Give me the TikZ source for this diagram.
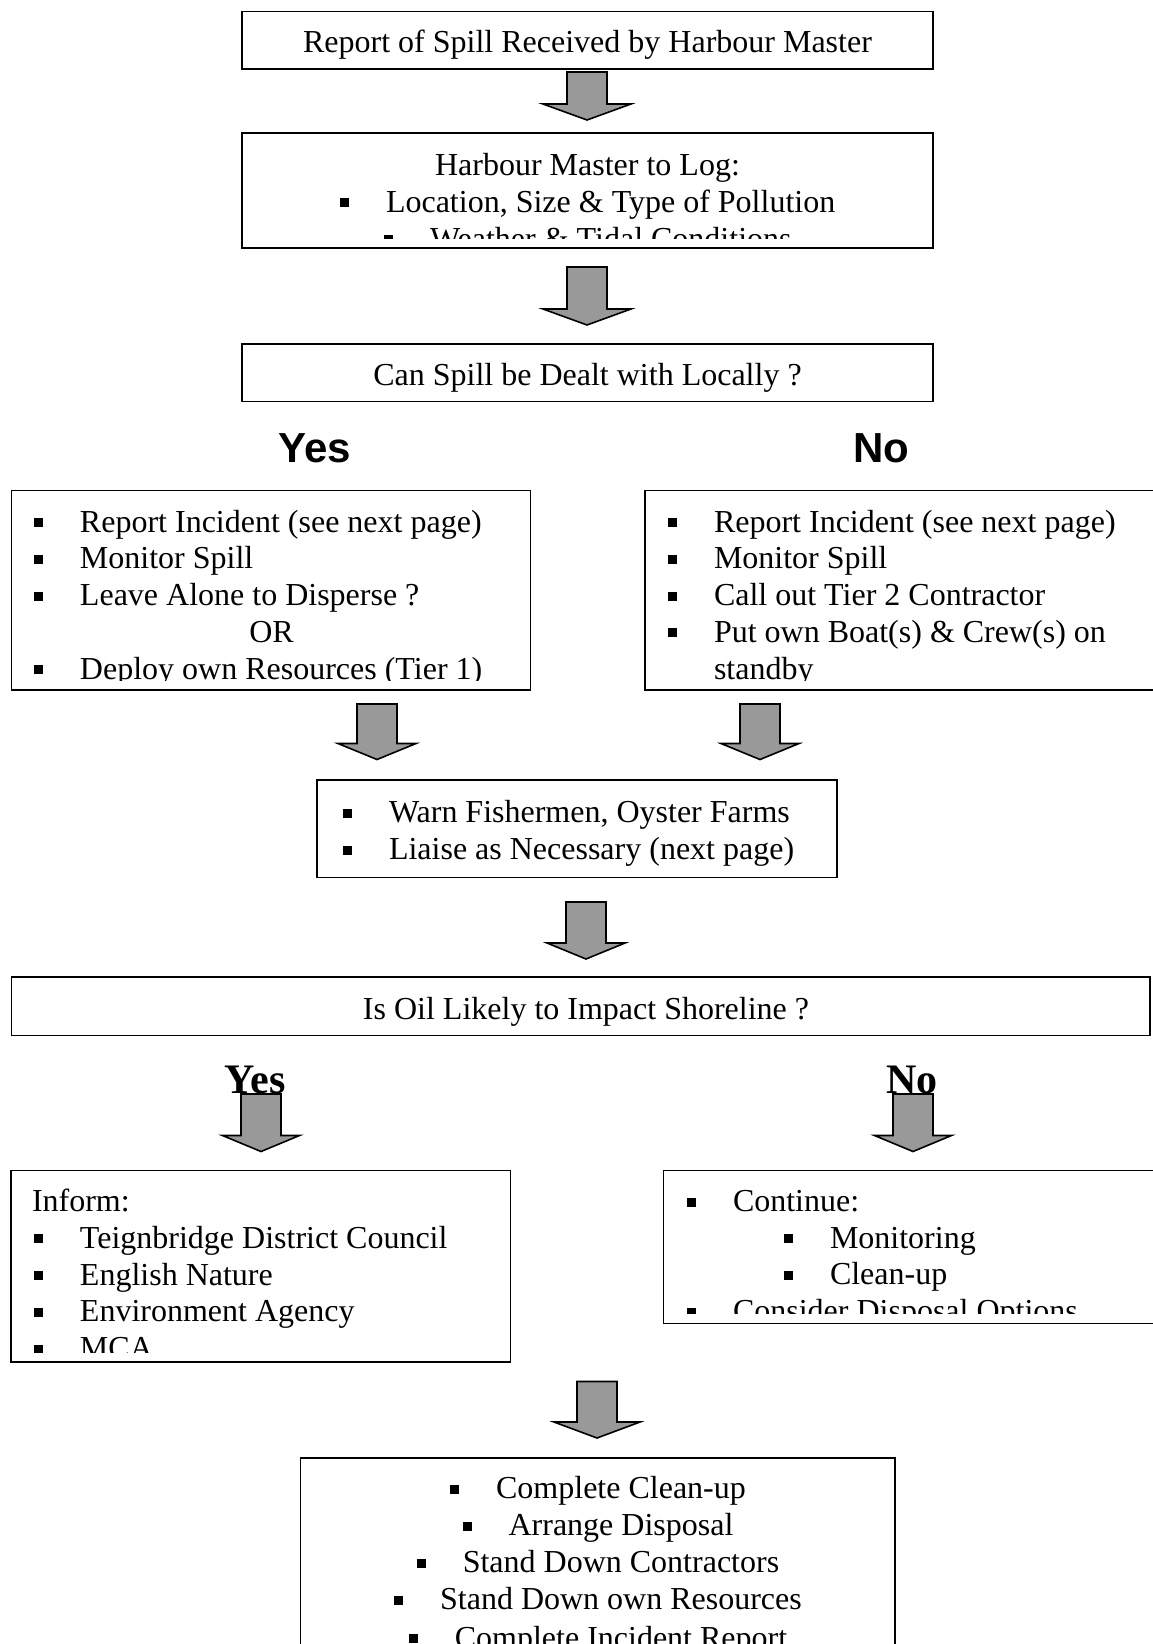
\documentclass[tikz,border=0pt]{standalone}
\usepackage{fontspec}
\setmainfont{Liberation Serif}
\newfontfamily\yesnosans{Liberation Sans}
\definecolor{arrowgray}{RGB}{153,153,153}
\newcommand\bl{\makebox[46pt][l]{\rule[5pt]{9pt}{9pt}}}
\newcommand\blockarrow[4]{\draw[arr] ({#1-20},#2) -- ({#1+20},#2) -- ({#1+20},{#3-16}) -- ({#1+#4},{#3-16}) -- (#1,#3) -- ({#1-#4},{#3-16}) -- ({#1-20},{#3-16}) -- cycle;}
\begin{document}
\begin{tikzpicture}[x=1pt,y=-1pt,
 box/.style={draw=black,line width=1.8pt},
 txt/.style={inner sep=0pt,outer sep=0pt,font=\fontsize{32}{36}\selectfont},
 arr/.style={draw=black,line width=1.6pt,fill=arrowgray,line join=miter},
 yn/.style={inner sep=0pt,anchor=base,font=\yesnosans\bfseries\fontsize{42}{48}\selectfont},
 yntwo/.style={inner sep=0pt,anchor=base,font=\bfseries\fontsize{42}{48}\selectfont}]
\useasboundingbox (0,0) rectangle (1152,1644);
\fill[white] (0,0) rectangle (1152,1644);

% Box 1
\draw[box] (242,11.5) rectangle (933,69);
\node[txt,anchor=base] (t1) at (587.5,52.5) {Report of Spill Received by Harbour Master};
\blockarrow{587}{72}{120}{44}

% Box 2
\draw[box] (242,133) rectangle (933,248);
\begin{scope}
\clip (242,133) rectangle (933,238);
\node[txt,anchor=base] (t2a) at (587.5,175.5) {Harbour Master to Log:};
\node[txt,anchor=base west] (t2b) at (340,212) {\bl Location, Size \& Type of Pollution};
\node[txt,anchor=base west] (t2c) at (384,249) {\bl Weather \& Tidal Conditions};
\end{scope}
\blockarrow{587}{267}{325}{44}

% Box 3
\draw[box] (242,344) rectangle (933,401.5);
\node[txt,anchor=base] (t3) at (587.5,385) {Can Spill be Dealt with Locally ?};

\node[yn] (yes1) at (315,462) {Yes};
\node[yn] (no1) at (881,462) {No};

% Yes box (left)
\draw[box] (11.5,490.5) rectangle (530.5,690);
\begin{scope}
\clip (11.5,490.5) rectangle (530.5,680.5);
\node[txt,anchor=base west] (l1) at (34,532) {\bl Report Incident (see next page)};
\node[txt,anchor=base west] (l2) at (34,568.8) {\bl Monitor Spill};
\node[txt,anchor=base west] (l3) at (34,605.6) {\bl Leave Alone to Disperse ?};
\node[txt,anchor=base] (l4) at (271.5,642.4) {OR};
\node[txt,anchor=base west] (l5) at (34,679.2) {\bl Deploy own Resources (Tier 1)};
\end{scope}

% No box (right)
\draw[box] (645,490.5) rectangle (1170,690);
\begin{scope}
\clip (645,490.5) rectangle (1170,680.5);
\node[txt,anchor=base west] (r1) at (668,532) {\bl Report Incident (see next page)};
\node[txt,anchor=base west] (r2) at (668,568.8) {\bl Monitor Spill};
\node[txt,anchor=base west] (r3) at (668,605.6) {\bl Call out Tier 2 Contractor};
\node[txt,anchor=base west] (r4) at (668,642.4) {\bl Put own Boat(s) \& Crew(s) on};
\node[txt,anchor=base west] (r5) at (714,679.2) {standby};
\end{scope}

\blockarrow{377}{704}{759.5}{39}
\blockarrow{760}{704}{759.5}{39}

% Warn box
\draw[box] (317,780) rectangle (837,877.5);
\node[txt,anchor=base west] (w1) at (343,822.5) {\bl Warn Fishermen, Oyster Farms};
\node[txt,anchor=base west] (w2) at (343,859.5) {\bl Liaise as Necessary (next page)};

\blockarrow{586}{902}{959}{39}

% Shoreline box
\draw[box] (11.5,977) rectangle (1150,1035.5);
\node[txt,anchor=base] (s1) at (586,1019) {Is Oil Likely to Impact Shoreline ?};

\node[yntwo] (yes2) at (255,1093) {Yes};
\node[yntwo] (no2) at (912,1093) {No};
\blockarrow{261}{1094}{1151.5}{38.5}
\blockarrow{913}{1094}{1151.5}{38.5}

% Inform box
\draw[box] (11,1170.5) rectangle (510.5,1362);
\begin{scope}
\clip (11,1170.5) rectangle (510.5,1352);
\node[txt,anchor=base west] (i0) at (32,1211.5) {Inform:};
\node[txt,anchor=base west] (i1) at (34,1248.3) {\bl Teignbridge District Council};
\node[txt,anchor=base west] (i2) at (34,1285.1) {\bl English Nature};
\node[txt,anchor=base west] (i3) at (34,1321.9) {\bl Environment Agency};
\node[txt,anchor=base west] (i4) at (34,1358.7) {\bl MCA};
\end{scope}

% Continue box
\draw[box] (663.5,1170.5) rectangle (1170,1323.5);
\begin{scope}
\clip (663.5,1170.5) rectangle (1170,1313.5);
\node[txt,anchor=base west] (c1) at (687,1211.5) {\bl Continue:};
\node[txt,anchor=base west] (c2) at (784,1248.2) {\bl Monitoring};
\node[txt,anchor=base west] (c3) at (784,1284.9) {\bl Clean-up};
\node[txt,anchor=base west] (c4) at (687,1321.6) {\bl Consider Disposal Options};
\end{scope}

\blockarrow{597}{1381.5}{1438}{43}

% Final box
\draw[box] (300.5,1458) rectangle (895,1700);
\node[txt,anchor=base] (f1) at (598,1498.5) {\bl Complete Clean-up};
\node[txt,anchor=base] (f2) at (598,1535.5) {\bl Arrange Disposal};
\node[txt,anchor=base] (f3) at (598,1572.5) {\bl Stand Down Contractors};
\node[txt,anchor=base] (f4) at (598,1609.5) {\bl Stand Down own Resources};
\node[txt,anchor=base] (f5) at (598,1648) {\bl Complete Incident Report};
\end{tikzpicture}
\end{document}
